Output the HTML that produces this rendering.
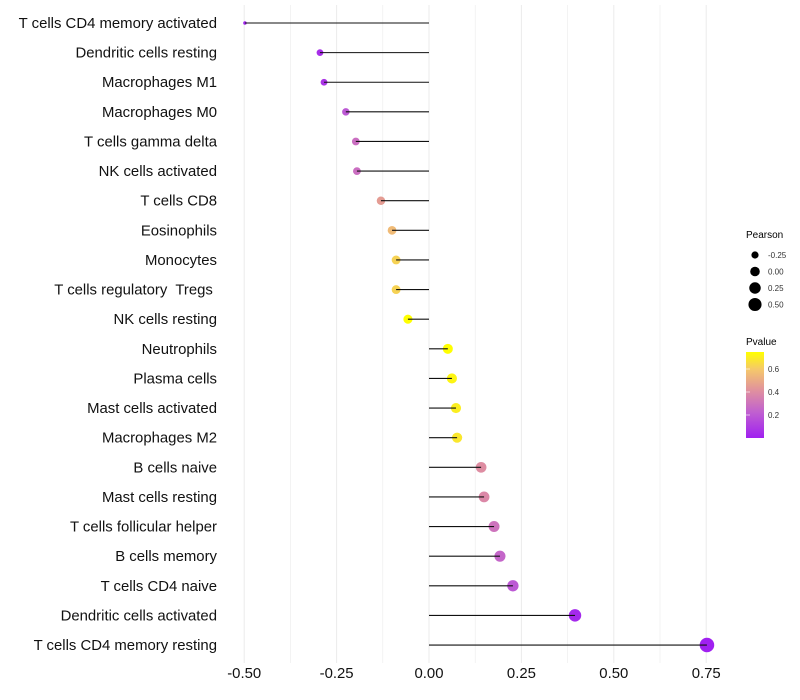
<!DOCTYPE html>
<html><head><meta charset="utf-8"><style>
body{margin:0;background:#fff;font-family:"Liberation Sans",sans-serif}
svg{display:block}
text{white-space:pre}
</style></head><body>
<svg id="chart" width="800" height="700" xmlns="http://www.w3.org/2000/svg">
<defs><linearGradient id="pg" x1="0" y1="1" x2="0" y2="0">
<stop offset="0" stop-color="#A020F0"/><stop offset="0.3" stop-color="#C060D0"/><stop offset="0.55" stop-color="#E0909F"/><stop offset="0.8" stop-color="#F5C86A"/><stop offset="1" stop-color="#FFFF00"/></linearGradient></defs>
<g id="grid"></g>
<g id="marks"></g>
<g id="axes"></g>
<g>
<text x="746" y="238" font-size="10" fill="#000">Pearson</text>
<g id="sizeLegend"></g>
</g>
<g>
<text x="746" y="345" font-size="10" fill="#000">Pvalue</text>
<rect x="746" y="352" width="18" height="86" fill="url(#pg)"/>
<g id="colorLegend"></g>
</g>
</svg>
<script>
const categories=["T cells CD4 memory activated","Dendritic cells resting","Macrophages M1","Macrophages M0","T cells gamma delta","NK cells activated","T cells CD8","Eosinophils","Monocytes","T cells regulatory  Tregs ","NK cells resting","Neutrophils","Plasma cells","Mast cells activated","Macrophages M2","B cells naive","Mast cells resting","T cells follicular helper","B cells memory","T cells CD4 naive","Dendritic cells activated","T cells CD4 memory resting"];
const pearson=[-0.498,-0.295,-0.284,-0.225,-0.198,-0.195,-0.13,-0.10,-0.089,-0.089,-0.057,0.051,0.062,0.073,0.076,0.141,0.149,0.176,0.192,0.227,0.395,0.752];
const pvalue=[0.01,0.05,0.07,0.2,0.28,0.28,0.45,0.55,0.62,0.62,0.78,0.8,0.72,0.7,0.68,0.4,0.38,0.3,0.25,0.2,0.03,0.001];
const xTicks=[-0.5,-0.25,0,0.25,0.5,0.75];
const xTickLabels=["-0.50","-0.25","0.00","0.25","0.50","0.75"];
const sizeBreaks=[-0.25,0,0.25,0.5];
const sizeLabels=["-0.25","0.00","0.25","0.50"];
const colorBreaks=[0.2,0.4,0.6];

const NS="http://www.w3.org/2000/svg";
const x=v=>429+v*369.6;
const y=i=>23+i*29.62;
const r=v=>Math.sqrt(Math.max(0.5,3+(v+0.5)*40));
const stops=[[0,[160,32,240]],[0.225,[192,96,208]],[0.41,[224,144,159]],[0.58,[243,196,110]],[0.75,[255,255,0]]];
function col(p){p=Math.max(0,Math.min(0.75,p));for(let k=1;k<stops.length;k++){if(p<=stops[k][0]){const a=stops[k-1],b=stops[k],t=(p-a[0])/(b[0]-a[0]);const c=a[1].map((v,j)=>Math.round(v+(b[1][j]-v)*t));return `rgb(${c})`;}}return "rgb(255,255,0)";}
function mk(tag,attrs,parent,txt){const e=document.createElementNS(NS,tag);for(const k in attrs)e.setAttribute(k,attrs[k]);if(txt!==undefined)e.textContent=txt;parent.appendChild(e);return e;}
const grid=document.getElementById('grid'),marks=document.getElementById('marks'),axes=document.getElementById('axes');
for(let v=-0.5;v<=0.8;v+=0.125){const l=mk('line',{x1:x(v),x2:x(v),y1:5,y2:663,stroke:'#ebebeb','stroke-width':v%0.25===0?1:0.6},grid);

}
categories.forEach((c,i)=>{
const t=mk('text',{x:217,y:y(i)+5,'text-anchor':'end','font-size':14.9,fill:'#111'},axes,c);


const cc=mk('circle',{cx:x(pearson[i]),cy:y(i),r:r(pearson[i]),fill:col(pvalue[i])},marks);


const s=mk('line',{x1:x(0),x2:x(pearson[i]),y1:y(i),y2:y(i),stroke:'#111','stroke-width':1.1},marks);


});
xTicks.forEach((v,i)=>{const t=mk('text',{x:x(v),y:678,'text-anchor':'middle','font-size':14.9,fill:'#111'},axes,xTickLabels[i]);

});
const sl=document.getElementById('sizeLegend');
sizeBreaks.forEach((v,i)=>{const cy=255+i*16.5;
const c=mk('circle',{cx:755,cy:cy,r:r(v),fill:'#000'},sl);


const t=mk('text',{x:768,y:cy+3,'font-size':8,fill:'#333'},sl,sizeLabels[i]);

});
const cl=document.getElementById('colorLegend');
colorBreaks.forEach(v=>{const yy=438-v*115;
const l=mk('line',{x1:746,x2:750,y1:yy,y2:yy,stroke:'#fff','stroke-width':0.6},cl);


const t=mk('text',{x:768,y:yy+3,'font-size':8,fill:'#333'},cl,v.toFixed(1));

});
</script>
</body></html>
